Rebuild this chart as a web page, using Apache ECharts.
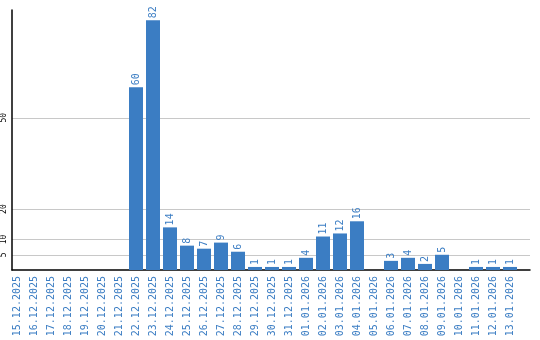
<!DOCTYPE html>
<html><head><meta charset="utf-8">
<script src="https://cdn.jsdelivr.net/npm/echarts@6/dist/echarts.min.js"></script>
<style>html,body{margin:0;padding:0;background:#fff}#c{width:540px;height:340px}</style>
</head><body><div id="c"></div>
<script>
const categories = ["15.12.2025","16.12.2025","17.12.2025","18.12.2025","19.12.2025","20.12.2025","21.12.2025","22.12.2025","23.12.2025","24.12.2025","25.12.2025","26.12.2025","27.12.2025","28.12.2025","29.12.2025","30.12.2025","31.12.2025","01.01.2026","02.01.2026","03.01.2026","04.01.2026","05.01.2026","06.01.2026","07.01.2026","08.01.2026","09.01.2026","10.01.2026","11.01.2026","12.01.2026","13.01.2026"];
const values = [null,null,null,null,null,null,null,60,82,14,8,7,9,6,1,1,1,4,11,12,16,null,3,4,2,5,null,1,1,1];
const yTicks = [5,10,20,50];
const yMax = 85.4;

const chart = echarts.init(document.getElementById('c'), null, {renderer:'canvas'});
const blue = '#3b7dc3';
const mono = 'DejaVu Sans Mono';
chart.setOption({
  animation:false,
  grid:[
    {left:10, right:10, top:10, height:260},
    {left:8.5, width:510, top:10, height:260}
  ],
  xAxis:[
    {gridIndex:0, type:'value', min:0, max:1, axisLine:{show:true, onZero:false, lineStyle:{color:'#000', width:1.5}}, axisTick:{show:false}, axisLabel:{show:false}, splitLine:{show:false}},
    {gridIndex:1, type:'category', data:categories, axisLine:{show:false}, axisTick:{show:false},
     axisLabel:{interval:0, rotate:90, color:blue, fontFamily:mono, fontSize:10, margin:6}}
  ],
  yAxis:[
    {gridIndex:0, type:'value', min:0, max:yMax,
     axisLine:{show:true, lineStyle:{color:'#000', width:1.5}},
     axisTick:{show:false, customValues:yTicks},
     axisLabel:{customValues:yTicks, rotate:90, color:'#000', fontFamily:mono, fontSize:8, margin:4},
     splitLine:{show:true, lineStyle:{color:'#c8c8c8', width:1}}},
    {gridIndex:1, type:'value', min:0, max:yMax, show:false, splitLine:{show:false}}
  ],
  series:[{
    type:'bar', xAxisIndex:1, yAxisIndex:1, data:values, barWidth:14,
    itemStyle:{color:blue},
    label:{show:true, position:'top', rotate:90, align:'left', verticalAlign:'middle', distance:2, color:blue, fontFamily:mono, fontSize:10}
  }]
});
</script></body></html>
